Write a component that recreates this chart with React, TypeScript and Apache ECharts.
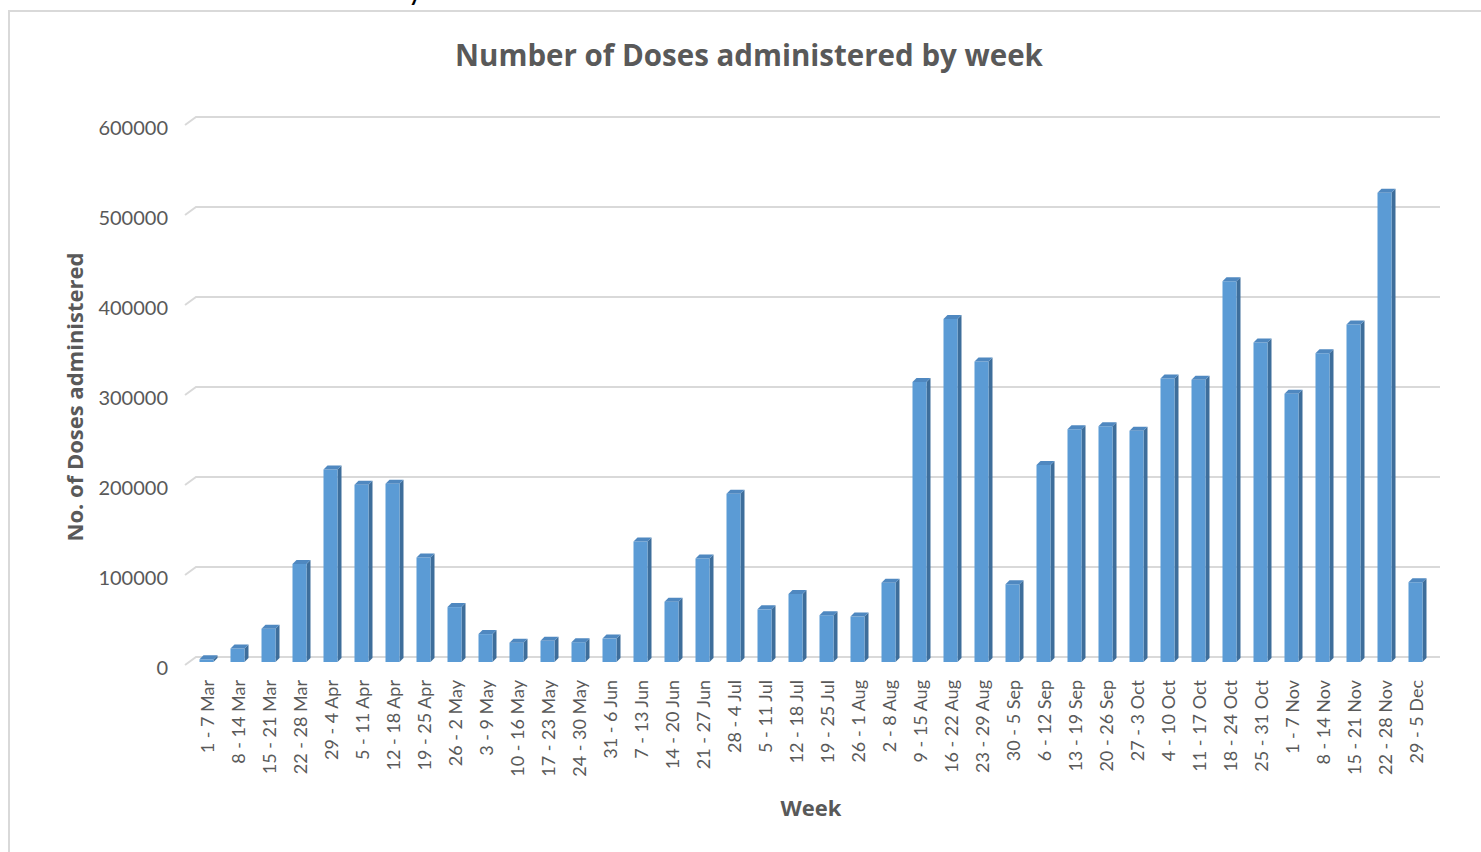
import React, { useEffect, useRef } from "react";
import * as echarts from "echarts";

const categories = [
  "1 - 7 Mar", "8 - 14 Mar", "15 - 21 Mar", "22 - 28 Mar", "29 - 4 Apr",
  "5 - 11 Apr", "12 - 18 Apr", "19 - 25 Apr", "26 - 2 May", "3 - 9 May",
  "10 - 16 May", "17 - 23 May", "24 - 30 May", "31 - 6 Jun", "7 - 13 Jun",
  "14 - 20 Jun", "21 - 27 Jun", "28 - 4 Jul", "5 - 11 Jul", "12 - 18 Jul",
  "19 - 25 Jul", "26 - 1 Aug", "2 - 8 Aug", "9 - 15 Aug", "16 - 22 Aug",
  "23 - 29 Aug", "30 - 5 Sep", "6 - 12 Sep", "13 - 19 Sep", "20 - 26 Sep",
  "27 - 3 Oct", "4 - 10 Oct", "11 - 17 Oct", "18 - 24 Oct", "25 - 31 Oct",
  "1 - 7 Nov", "8 - 14 Nov", "15 - 21 Nov", "22 - 28 Nov", "29 - 5 Dec",
];

const doses = [
  3000, 15000, 37000, 109000, 214000,
  197000, 198000, 116000, 61000, 31000,
  21500, 23500, 22000, 26000, 134000,
  67000, 115000, 187000, 58500, 75500,
  52000, 50500, 88000, 311000, 381000,
  334000, 86500, 219000, 258500, 262000,
  257000, 315000, 313500, 423000, 355000,
  298000, 343000, 375000, 521500, 88500,
];

const yTicks = [0, 100000, 200000, 300000, 400000, 500000, 600000];

const titleText = "Number of Doses administered by week";
const yName = "No. of Doses administered";
const xName = "Week";

const FONT = "Lato, 'Open Sans', sans-serif";
const BOLD_FONT = "'Open Sans', Lato, sans-serif";
const TEXT = "#595959";

export default function App() {
  const ref = useRef<HTMLDivElement>(null);

  useEffect(() => {
    if (!ref.current) return;
    const chart = echarts.init(ref.current, null, { renderer: "svg" });

    const option: any = {
      animation: false,
      backgroundColor: "#ffffff",
      textStyle: { fontFamily: FONT },
      title: {
        text: titleText,
        left: 744,
        top: 34,
        textAlign: "center",
        textStyle: { fontFamily: BOLD_FONT, fontSize: 29.5, fontWeight: "bold", color: TEXT },
      },
      graphic: [
        {
          type: "rect",
          silent: true,
          shape: { x: 9, y: 11, width: 1490, height: 860 },
          style: { fill: "none", stroke: "#d9d9d9", lineWidth: 2 },
          z: 0,
        },
        {
          type: "text",
          silent: true,
          x: 409,
          y: -19,
          style: { text: "y", font: "bold 22px " + FONT, fill: "#000000" },
        },
      ],
      grid: { left: 191, right: 50, top: 117, bottom: 195, containLabel: false },
      xAxis: {
        type: "category",
        data: categories,
        boundaryGap: true,
        name: xName,
        nameLocation: "middle",
        nameGap: 139,
        nameTextStyle: { fontFamily: BOLD_FONT, fontSize: 22, fontWeight: "bold", color: TEXT },
        axisLine: { show: false },
        axisTick: { show: false },
        splitLine: { show: false },
        axisLabel: {
          interval: 0,
          rotate: 90,
          margin: 23,
          fontFamily: FONT,
          fontSize: 18,
          color: TEXT,
        },
      },
      yAxis: {
        type: "value",
        min: 0,
        max: 600000,
        interval: 100000,
        name: yName,
        nameLocation: "middle",
        nameRotate: 90,
        nameGap: 106,
        nameTextStyle: {
          fontFamily: BOLD_FONT,
          fontSize: 22,
          fontWeight: "bold",
          color: TEXT,
          padding: [0, 20, 0, 0],
        },
        axisLine: { show: false },
        axisTick: { show: false },
        splitLine: { show: false },
        axisLabel: {
          margin: 23,
          fontFamily: FONT,
          fontSize: 20,
          color: TEXT,
          verticalAlign: "top",
          formatter: (v: number) => String(v),
        },
      },
      series: [
        {
          type: "custom",
          name: "grid",
          silent: true,
          z: 1,
          clip: false,
          data: yTicks.map((v) => [0, v]),
          encode: { x: 0, y: 1 },
          renderItem: (params: any, api: any) => {
            const cs = params.coordSys;
            const p = api.coord([0, api.value(1)]);
            const y = p[1];
            return {
              type: "polyline",
              shape: {
                points: [
                  [cs.x - 6, y + 8],
                  [cs.x + 5, y],
                  [cs.x + cs.width + 9, y],
                ],
              },
              style: { stroke: "#d9d9d9", lineWidth: 2, fill: "none" },
            };
          },
        },
        {
          type: "custom",
          name: "Doses",
          z: 2,
          clip: false,
          data: doses.map((v, i) => [i, v]),
          encode: { x: 0, y: 1 },
          renderItem: (params: any, api: any) => {
            const i = api.value(0);
            const v = api.value(1);
            const base = api.coord([i, 0]);
            const top = api.coord([i, v]);
            const cx = base[0];
            const yb = base[1] + 5;
            const yt = top[1] + 5;
            const x0 = cx - 7;
            const x1 = cx + 7;
            const d = 4;
            const h = 4;
            return {
              type: "group",
              children: [
                {
                  type: "polygon",
                  shape: {
                    points: [
                      [x1, yt],
                      [x1 + d, yt - h],
                      [x1 + d, yb - h],
                      [x1, yb],
                    ],
                  },
                  style: { fill: "#3e6e9b" },
                },
                {
                  type: "rect",
                  shape: { x: x0, y: yt, width: x1 - x0, height: Math.max(0.5, yb - yt) },
                  style: { fill: "#5b9bd5" },
                },
                {
                  type: "polygon",
                  shape: {
                    points: [
                      [x0, yt],
                      [x1, yt],
                      [x1 + d, yt - h],
                      [x0 + d, yt - h],
                    ],
                  },
                  style: { fill: "#4f88c0" },
                },
              ],
            };
          },
        },
      ],
    };

    chart.setOption(option);
    return () => chart.dispose();
  }, []);

  return (
    <div
      ref={ref}
      style={{ position: "fixed", left: 0, top: 0, width: 1481, height: 852, background: "#fff" }}
    />
  );
}
